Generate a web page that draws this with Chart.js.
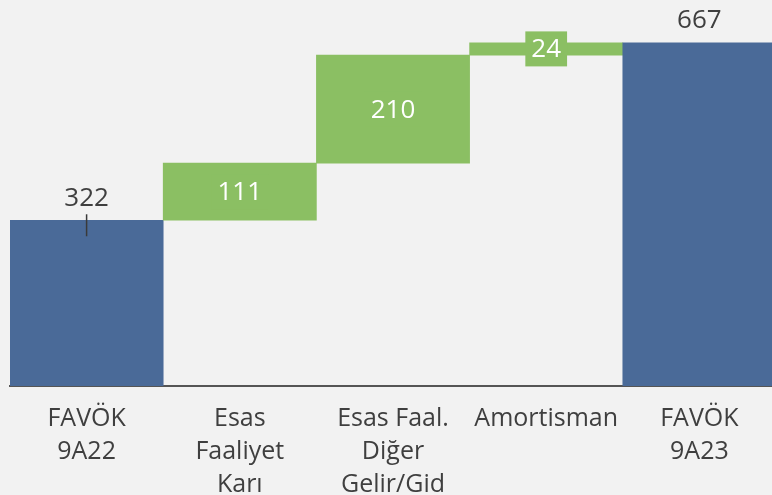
<!DOCTYPE html>
<html>
<head>
<meta charset="utf-8">
<script src="https://cdn.jsdelivr.net/npm/chart.js@4/dist/chart.umd.min.js"></script>
<style>
  html, body { margin: 0; padding: 0; background: #f2f2f2; overflow: hidden; }
  #wrap { width: 772px; height: 495px; overflow: hidden; }
</style>
</head>
<body>
<div id="wrap"><canvas id="favok" width="776" height="495"></canvas></div>
<script>
const categories = [
  ["FAVÖK", "9A22"],
  ["Esas", "Faaliyet", "Karı"],
  ["Esas Faal.", "Diğer", "Gelir/Gid"],
  "Amortisman",
  ["FAVÖK", "9A23"],
];
const values = [322, 111, 210, 24, 667];
const isTotal = [true, false, false, false, true];

const BLUE = "#4a6a98";
const GREEN = "#8bbf63";
const TEXT = "#3f3f3f";
const FONT = "'Open Sans', 'Noto Sans', sans-serif";

// floating ranges for the waterfall: totals start at zero, steps stack on the running sum
const ranges = [];
let running = 0;
values.forEach((v, i) => {
  if (isTotal[i]) {
    ranges.push([0, v]);
    running = v;
  } else {
    ranges.push([running, running + v]);
    running += v;
  }
});

const valueLabels = {
  id: "valueLabels",
  afterDatasetsDraw(chart) {
    const { ctx } = chart;
    const meta = chart.getDatasetMeta(0);
    ctx.save();
    ctx.font = `26px ${FONT}`;
    ctx.textAlign = "center";
    ctx.textBaseline = "middle";
    meta.data.forEach((bar, i) => {
      const txt = String(values[i]);
      if (isTotal[i]) {
        ctx.fillStyle = TEXT;
        ctx.fillText(txt, bar.x, bar.y - 22);
      } else {
        const cy = (bar.y + bar.base) / 2;
        const w = ctx.measureText(txt).width + 12;
        const h = 35;
        ctx.fillStyle = GREEN;
        ctx.fillRect(bar.x - w / 2, cy - h / 2, w, h);
        ctx.fillStyle = "#ffffff";
        ctx.fillText(txt, bar.x, cy + 1);
      }
    });
    // short leader mark under the first total label
    const first = meta.data[0];
    ctx.strokeStyle = "#3a3a3a";
    ctx.lineWidth = 1.5;
    ctx.beginPath();
    ctx.moveTo(first.x, first.y - 6);
    ctx.lineTo(first.x, first.y + 16);
    ctx.stroke();
    ctx.restore();
  },
};

new Chart(document.getElementById("favok"), {
  type: "bar",
  data: {
    labels: categories,
    datasets: [{
      data: ranges,
      backgroundColor: isTotal.map((t) => (t ? BLUE : GREEN)),
      borderWidth: 0,
      barPercentage: 1,
      categoryPercentage: 1,
    }],
  },
  options: {
    responsive: false,
    animation: false,
    layout: { padding: { left: 10, right: 0, top: 0, bottom: 0 } },
    plugins: {
      legend: { display: false },
      tooltip: { enabled: false },
    },
    scales: {
      x: {
        grid: { display: false },
        border: { display: true, color: "#555555", width: 2 },
        ticks: {
          color: TEXT,
          font: { family: FONT, size: 25, lineHeight: 1.32 },
          padding: 8,
          autoSkip: false,
          maxRotation: 0,
          minRotation: 0,
        },
        afterFit(scale) {
          scale.height = 109;
        },
      },
      y: {
        display: false,
        min: 0,
        max: 750,
      },
    },
  },
  plugins: [valueLabels],
});
</script>
</body>
</html>
